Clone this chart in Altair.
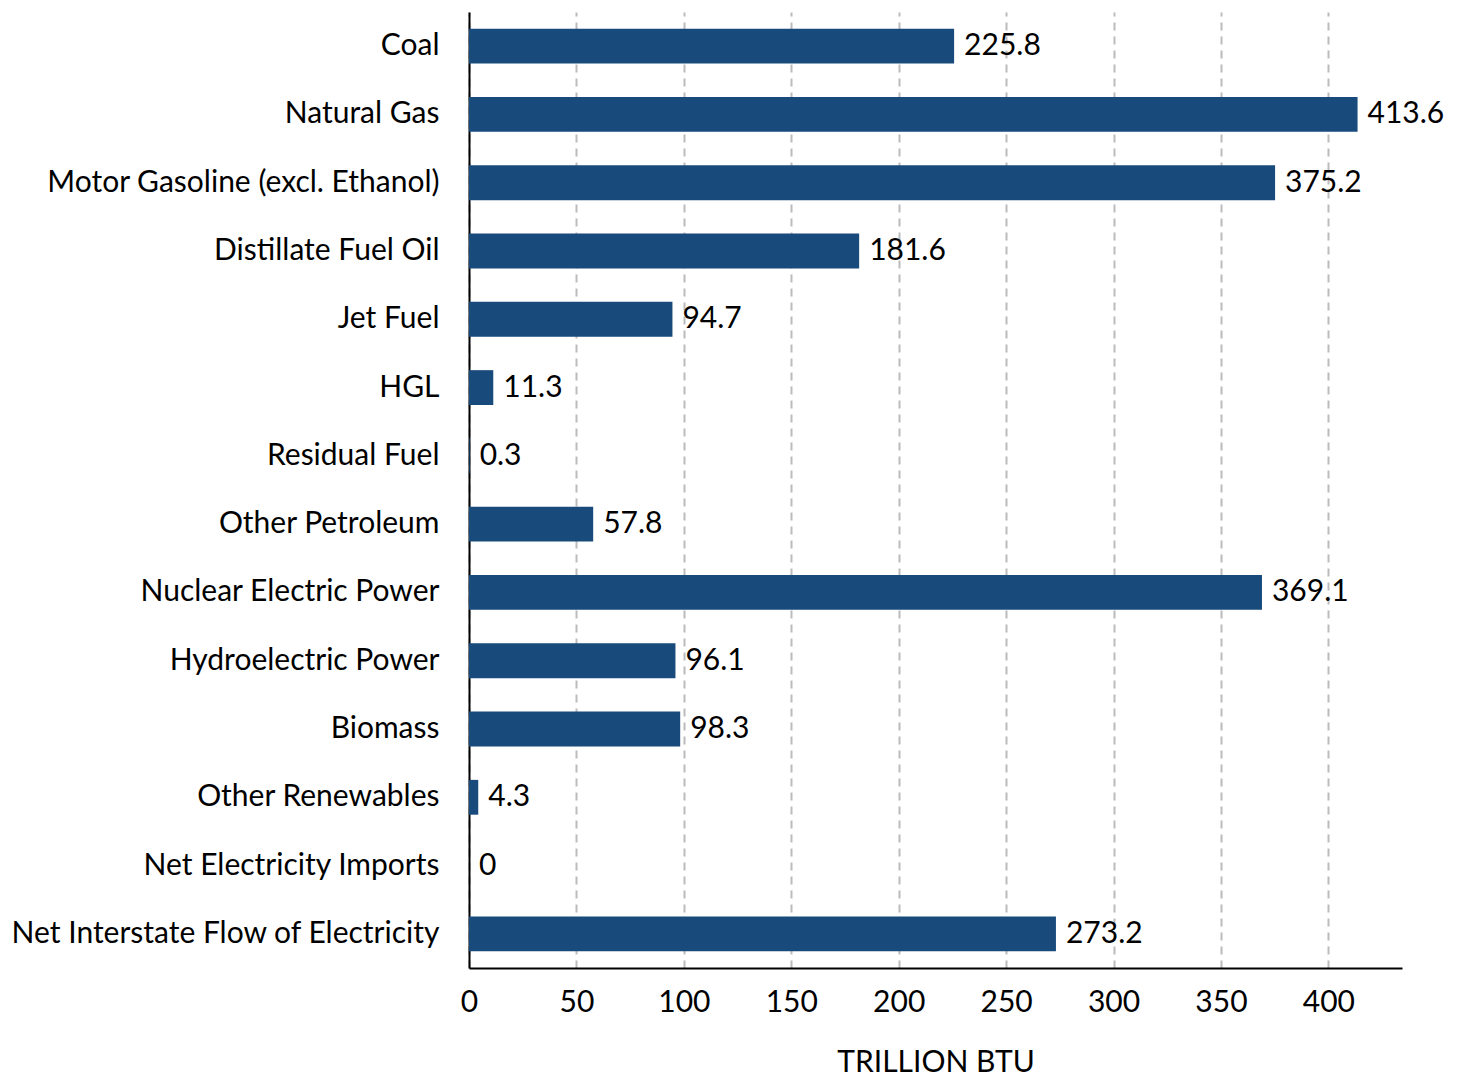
import altair as alt
import pandas as pd

categories = ["Coal", "Natural Gas", "Motor Gasoline (excl. Ethanol)", "Distillate Fuel Oil",
              "Jet Fuel", "HGL", "Residual Fuel", "Other Petroleum", "Nuclear Electric Power",
              "Hydroelectric Power", "Biomass", "Other Renewables", "Net Electricity Imports",
              "Net Interstate Flow of Electricity"]
values = [225.8, 413.6, 375.2, 181.6, 94.7, 11.3, 0.3, 57.8, 369.1, 96.1, 98.3, 4.3, 0, 273.2]
labels = ["225.8", "413.6", "375.2", "181.6", "94.7", "11.3", "0.3", "57.8", "369.1", "96.1",
          "98.3", "4.3", "0", "273.2"]
ticks = [0, 50, 100, 150, 200, 250, 300, 350, 400]

df = pd.DataFrame({"cat": categories, "val": values, "lab": labels})

FONT = "Lato"
FS = 30
xmax = max(values) * 1.05

base = alt.Chart(df).encode(
    y=alt.Y("cat:N", sort=categories, title=None,
            scale=alt.Scale(paddingInner=0.49, paddingOuter=0.245),
            axis=alt.Axis(labelFont=FONT, labelFontSize=FS, labelColor="#000000",
                          ticks=False, labelPadding=30, domain=True, domainColor="#000000",
                          domainWidth=2, grid=False, labelLimit=700)),
)

bars = base.mark_bar(color="#184a7b").encode(
    x=alt.X("val:Q", title="TRILLION BTU",
            scale=alt.Scale(domain=[0, xmax], nice=False, zero=True),
            axis=alt.Axis(values=ticks, labelFlush=False,
                          labelFont=FONT, labelFontSize=FS, labelColor="#000000",
                          titleFont=FONT, titleFontSize=FS, titleFontWeight="normal",
                          titleColor="#000000", titlePadding=30,
                          ticks=False, labelPadding=19, domainColor="#000000", domainWidth=2,
                          grid=True, gridColor="#bbbbbb", gridDash=[8, 6], gridWidth=2))
)

text = base.mark_text(align="left", baseline="middle", dx=10, font=FONT, fontSize=FS,
                      color="#000000").encode(
    x=alt.X("val:Q"),
    text="lab:N"
)

chart = (bars + text).properties(
    width=933, height=956,
    padding={"left": 1, "top": 4, "right": 0, "bottom": 0}
).configure_view(stroke=None)

chart.save("out.html", embed_options={"renderer": "svg", "actions": False})
